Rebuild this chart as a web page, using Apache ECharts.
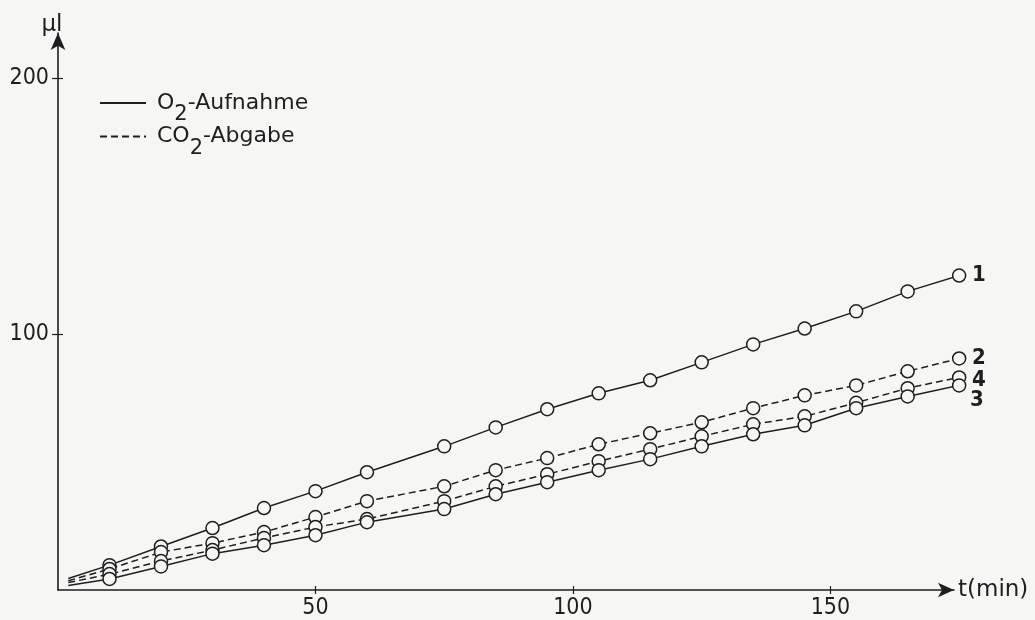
<!DOCTYPE html>
<html>
<head>
<meta charset="utf-8">
<script src="https://cdn.jsdelivr.net/npm/echarts@6/dist/echarts.min.js"></script>
<style>
  html, body { margin: 0; padding: 0; background: #f6f6f4; }
  #chart { width: 1035px; height: 620px; }
</style>
</head>
<body>
<div id="chart"></div>
<script>
// time (min); first entry is the unmarked start of each line
var times = [2, 10, 20, 30, 40, 50, 60, 75, 85, 95, 105, 115, 125, 135, 145, 155, 165, 175];
// µl values
var curve1 = [4.5, 9.7, 17.0, 24.2, 32.0, 38.6, 46.0, 56.1, 63.5, 70.6, 76.8, 81.9, 88.9, 95.9, 102.1, 108.8, 116.6, 122.8];
var curve2 = [3.6, 8.2, 14.8, 18.3, 22.6, 28.5, 34.7, 40.5, 46.8, 51.5, 56.9, 61.2, 65.5, 71.0, 76.0, 79.9, 85.4, 90.4];
var curve4 = [2.9, 6.2, 11.3, 15.6, 20.3, 24.6, 27.7, 34.7, 40.5, 45.2, 50.3, 55.0, 60.0, 64.7, 67.8, 73.1, 78.8, 83.0];
var curve3 = [1.8, 4.3, 9.2, 14.2, 17.5, 21.4, 26.5, 31.6, 37.4, 42.1, 46.8, 51.1, 56.1, 60.8, 64.3, 71.0, 75.6, 79.9];
var xTickLabels = [50, 100, 150];
var yTickLabels = [100, 200];
var legendNames = ['O₂-Aufnahme', 'CO₂-Abgabe'];
var endLabels = ['1', '2', '4', '3'];

var ink = '#1e1e1e';
var bg = '#f6f6f4';

function pts(vals) {
  return vals.map(function (v, i) {
    if (i === 0) return { value: [times[i], v], symbol: 'none' };
    return [times[i], v];
  });
}

function mkSeries(name, vals, dashed, label, labelOffset) {
  return {
    type: 'line',
    name: name,
    data: pts(vals),
    clip: false,
    symbol: 'circle',
    symbolSize: 13,
    itemStyle: { color: bg, borderColor: ink, borderWidth: 1.5 },
    lineStyle: { color: ink, width: 1.5, type: dashed ? [7, 4] : 'solid' },
    emphasis: { disabled: true },
    endLabel: {
      show: true,
      formatter: label,
      color: ink,
      fontFamily: 'DejaVu Sans Condensed',
      fontWeight: 'bold',
      fontSize: 22,
      offset: labelOffset
    },
    z: 3
  };
}

var chart = echarts.init(document.getElementById('chart'), null, { renderer: 'canvas' });

var textFont = 'DejaVu Sans';

chart.setOption({
  backgroundColor: bg,
  animation: false,
  grid: { left: 58, right: 81, top: 33, bottom: 29 },
  legend: {
    orient: 'vertical',
    left: 94,
    top: 87,
    itemWidth: 46,
    itemHeight: 14,
    itemGap: 0,
    data: legendNames,
    itemStyle: { opacity: 0 },
    formatter: function (n) { return n.replace('₂', '{s|2}'); },
    textStyle: {
      fontFamily: textFont,
      fontSize: 22,
      color: ink,
      padding: [0, 0, 0, 6],
      rich: {
        s: { fontFamily: textFont, fontSize: 21, color: ink, padding: [24, 0, 0, 0] }
      }
    }
  },
  xAxis: [{
    type: 'value',
    min: 0,
    max: 174,
    interval: 50,
    position: 'bottom',
    splitLine: { show: false },
    axisLine: { show: true, lineStyle: { color: ink, width: 1.6 }, symbol: ['none', 'arrow'], symbolSize: [11, 16], onZero: false },
    axisTick: { show: true, length: 4, customValues: xTickLabels, lineStyle: { color: ink, width: 1.2 } },
    axisLabel: {
      color: ink, fontFamily: 'DejaVu Sans Condensed', fontSize: 23, margin: 7,
      customValues: xTickLabels
    },
    name: 't(min)',
    nameLocation: 'end',
    nameGap: 4,
    nameTextStyle: { color: ink, fontFamily: textFont, fontSize: 23 }
  }, {
    type: 'value',
    min: 0,
    max: 174,
    interval: 50,
    position: 'bottom',
    splitLine: { show: false },
    axisLine: { show: false, onZero: false },
    axisTick: { show: true, inside: true, length: 4, customValues: xTickLabels, lineStyle: { color: ink, width: 1.2 } },
    axisLabel: { show: false }
  }],
  yAxis: [{
    type: 'value',
    min: 0,
    max: 217.5,
    interval: 100,
    position: 'left',
    splitLine: { show: false },
    axisLine: { show: true, lineStyle: { color: ink, width: 1.6 }, symbol: ['none', 'arrow'], symbolSize: [11, 17], onZero: false },
    axisTick: { show: true, length: 6, customValues: yTickLabels, lineStyle: { color: ink, width: 1.2 } },
    axisLabel: {
      color: ink, fontFamily: 'DejaVu Sans Condensed', fontSize: 23, margin: 9,
      customValues: yTickLabels
    },
    name: 'µl',
    nameLocation: 'end',
    nameGap: -4,
    nameTextStyle: { color: ink, fontFamily: textFont, fontSize: 23, align: 'center', padding: [0, 12, 0, 0] }
  }, {
    type: 'value',
    min: 0,
    max: 217.5,
    interval: 100,
    position: 'left',
    splitLine: { show: false },
    axisLine: { show: false, onZero: false },
    axisTick: { show: true, inside: true, length: 5, customValues: yTickLabels, lineStyle: { color: ink, width: 1.2 } },
    axisLabel: { show: false }
  }],
  series: [
    mkSeries(legendNames[0], curve1, false, endLabels[0], [8, -1]),
    mkSeries(legendNames[1], curve2, true, endLabels[1], [8, -1]),
    mkSeries(legendNames[1], curve4, true, endLabels[2], [8, 2]),
    mkSeries(legendNames[0], curve3, false, endLabels[3], [6, 14])
  ]
});
</script>
</body>
</html>
